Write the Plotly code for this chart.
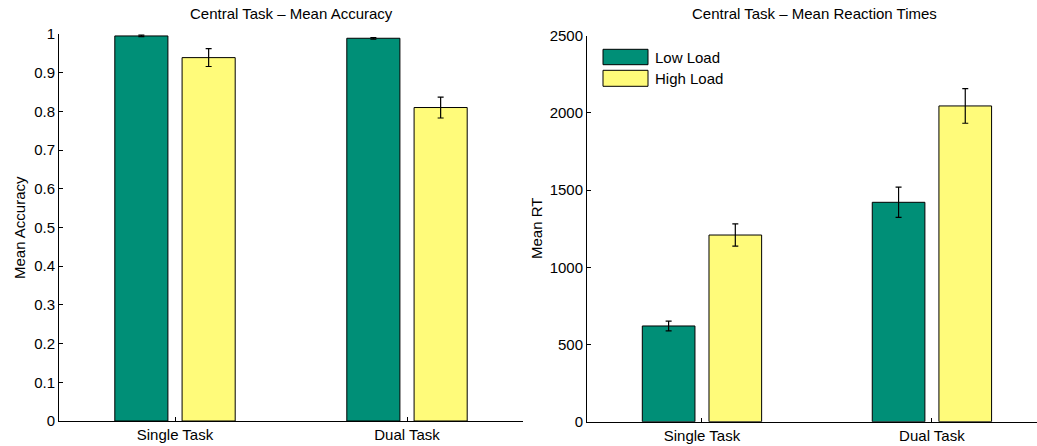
import plotly.graph_objects as go

# Conditions and load levels
conditions = ["Single Task", "Dual Task"]
loads = ["Low Load", "High Load"]

# Mean accuracy (proportion correct) and standard errors
acc_low = [0.995, 0.989]
acc_low_err = [0.002, 0.002]
acc_high = [0.939, 0.810]
acc_high_err = [0.023, 0.027]

# Mean reaction times (ms) and standard errors
rt_low = [620, 1421]
rt_low_err = [32, 98]
rt_high = [1209, 2045]
rt_high_err = [72, 112]

acc_ticks = [0, 0.1, 0.2, 0.3, 0.4, 0.5, 0.6, 0.7, 0.8, 0.9, 1]
rt_ticks = [0, 500, 1000, 1500, 2000, 2500]

GREEN = "#008F77"
YELLOW = "#FFFB7A"
FONT = "Liberation Sans, Arial, Helvetica, sans-serif"

W, H = 1037, 446


def px_x(p):
    return p / W


def px_y(p):
    return 1 - p / H


BAR_W = 0.229
OFF = 0.145

fig = go.Figure()


def add_pair(xa, ya, low, low_err, high, high_err):
    for vals, errs, col, off in [
        (low, low_err, GREEN, -OFF - BAR_W / 2),
        (high, high_err, YELLOW, OFF - BAR_W / 2),
    ]:
        fig.add_trace(go.Bar(
            x=conditions, y=vals, xaxis=xa, yaxis=ya,
            width=BAR_W, offset=off,
            marker=dict(color=col, line=dict(color="black", width=1)),
            error_y=dict(type="data", array=errs, color="black",
                         thickness=1.2, width=3),
            showlegend=False,
        ))


add_pair("x", "y", acc_low, acc_low_err, acc_high, acc_high_err)
add_pair("x2", "y2", rt_low, rt_low_err, rt_high, rt_high_err)

axis_common = dict(
    showline=True, linecolor="black", linewidth=1,
    ticks="inside", ticklen=4, tickcolor="black",
    showgrid=False, zeroline=False, mirror=False, automargin=False,
    tickfont=dict(family=FONT, size=15, color="black"),
)

fig.update_layout(
    width=W, height=H,
    margin=dict(l=0, r=0, t=0, b=0, autoexpand=False),
    paper_bgcolor="white", plot_bgcolor="white",
    barmode="overlay",
    font=dict(family=FONT, size=15, color="black"),
    xaxis=dict(domain=[px_x(59), px_x(523)], range=[-0.5, 1.5],
               type="category", anchor="y", **axis_common),
    yaxis=dict(domain=[px_y(421), px_y(34)], range=[0, 1],
               tickvals=acc_ticks, anchor="x", **axis_common),
    xaxis2=dict(domain=[px_x(587), 1.0], range=[-0.5, 1.457],
                type="category", anchor="y2", **axis_common),
    yaxis2=dict(domain=[px_y(421.7), px_y(35.7)], range=[0, 2500],
                tickvals=rt_ticks, anchor="x2", **axis_common),
)

annotations = [
    dict(text="Central Task \u2013 Mean Accuracy", x=px_x(291), y=px_y(14)),
    dict(text="Central Task \u2013 Mean Reaction Times", x=px_x(814), y=px_y(14)),
    dict(text="Mean Accuracy", x=px_x(19), y=px_y(228), textangle=-90),
    dict(text="Mean RT", x=px_x(536), y=px_y(229), textangle=-90),
]
for a in annotations:
    fig.add_annotation(xref="paper", yref="paper", showarrow=False,
                       xanchor="center", yanchor="middle",
                       font=dict(family=FONT, size=15, color="black"), **a)

# Legend drawn as patches with labels
legend_rows = [(loads[0], GREEN, 49.3, 64.7), (loads[1], YELLOW, 70.3, 86.3)]
for name, col, top, bot in legend_rows:
    fig.add_shape(type="rect", xref="paper", yref="paper",
                  x0=px_x(603), x1=px_x(648), y0=px_y(bot), y1=px_y(top),
                  fillcolor=col, line=dict(color="black", width=1))
    fig.add_annotation(xref="paper", yref="paper", showarrow=False,
                       x=px_x(653), y=px_y((top + bot) / 2),
                       xanchor="left", yanchor="middle", text=name,
                       font=dict(family=FONT, size=15, color="black"))

fig.write_html("out.html")
